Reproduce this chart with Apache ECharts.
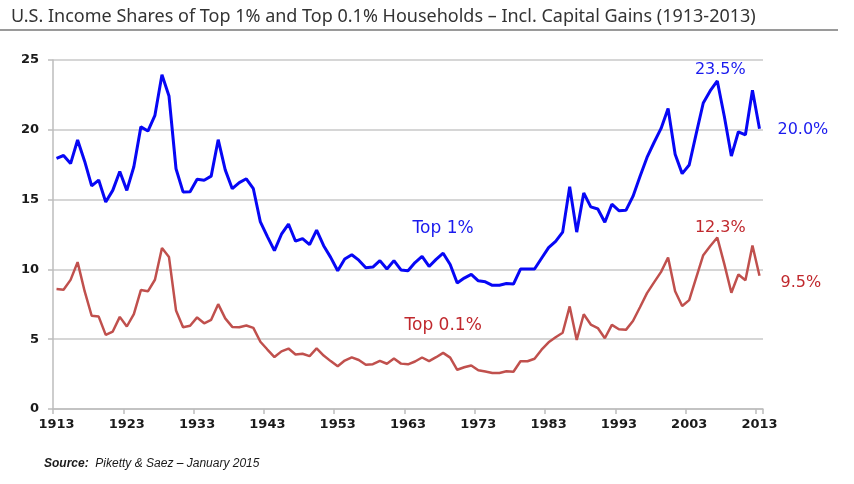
<!DOCTYPE html>
<html>
<head>
<meta charset="utf-8">
<script src="https://cdn.jsdelivr.net/npm/echarts@6/dist/echarts.min.js"></script>
<style>html,body{margin:0;padding:0;background:#fff}#c{width:854px;height:484px}</style>
</head>
<body>
<div id="c"></div>
<script>
var years = [];
for (var y = 1913; y <= 2013; y++) years.push(String(y));

var top1 = [17.96,18.16,17.58,19.27,17.75,15.98,16.40,14.83,15.66,17.01,
15.66,17.35,20.21,19.91,21.04,23.94,22.42,17.21,15.55,15.57,
16.45,16.38,16.68,19.29,17.13,15.78,16.22,16.49,15.78,13.40,
12.35,11.34,12.52,13.25,12.02,12.20,11.78,12.82,11.70,10.86,
9.90,10.74,11.05,10.66,10.12,10.17,10.63,10.03,10.63,9.96,
9.91,10.49,10.93,10.21,10.72,11.16,10.35,9.03,9.38,9.64,
9.18,9.11,8.86,8.87,8.99,8.95,10.02,10.02,10.03,10.80,
11.56,12.01,12.67,15.92,12.67,15.47,14.48,14.33,13.38,14.67,
14.21,14.23,15.23,16.65,18.02,19.09,20.10,21.52,18.25,16.86,
17.48,19.73,21.92,22.80,23.50,20.95,18.12,19.86,19.64,22.83,
20.08];

var top01 = [8.60,8.54,9.25,10.52,8.44,6.68,6.62,5.31,5.55,6.60,
5.91,6.80,8.52,8.43,9.26,11.54,10.88,7.06,5.86,5.96,
6.56,6.14,6.39,7.51,6.49,5.88,5.86,5.98,5.81,4.82,
4.26,3.72,4.13,4.33,3.91,3.96,3.79,4.34,3.83,3.43,
3.06,3.47,3.70,3.51,3.17,3.21,3.45,3.24,3.61,3.25,
3.20,3.40,3.69,3.43,3.71,4.02,3.68,2.81,2.99,3.12,
2.77,2.69,2.58,2.58,2.71,2.67,3.42,3.42,3.60,4.25,
4.78,5.14,5.46,7.35,4.94,6.79,6.05,5.80,5.07,6.03,
5.71,5.67,6.30,7.29,8.30,9.07,9.82,10.85,8.43,7.38,
7.80,9.41,11.02,11.68,12.28,10.38,8.33,9.64,9.22,11.71,
9.54];

var yTicks = [0, 5, 10, 15, 20, 25];

var chart = echarts.init(document.getElementById('c'), null, {renderer: 'canvas'});
var axisFont = {fontFamily: 'DejaVu Sans', fontWeight: 'bold', fontSize: 13, color: '#1a1a1a'};
var annFont = 'DejaVu Sans';

chart.setOption({
  animation: false,
  backgroundColor: '#ffffff',
  title: {
    text: 'U.S. Income Shares of Top 1% and Top 0.1% Households \u2013 Incl. Capital Gains (1913-2013)',
    left: 6, top: 3,
    textStyle: {fontFamily: 'Noto Sans', fontWeight: 'normal', fontSize: 18, color: '#333333'}
  },
  graphic: [
    {type: 'rect', shape: {x: 0, y: 29, width: 838, height: 2}, style: {fill: '#9a9a9a'}, silent: true},
    {type: 'text', left: 44, top: 458, style: {
      text: '{b|Source:}  {i|Piketty & Saez \u2013 January 2015}',
      rich: {
        b: {fontFamily: 'Liberation Sans', fontStyle: 'italic', fontWeight: 'bold', fontSize: 12, fill: '#1a1a1a'},
        i: {fontFamily: 'Liberation Sans', fontStyle: 'italic', fontSize: 12, fill: '#1a1a1a'}
      }
    }}
  ],
  grid: {left: 53, right: 91, top: 60, bottom: 75, containLabel: false},
  xAxis: {
    type: 'category',
    data: years,
    boundaryGap: true,
    axisLine: {show: true, lineStyle: {color: '#bdbdbd', width: 1.5}},
    axisTick: {show: true, interval: 9, length: 5, lineStyle: {color: '#bdbdbd', width: 1.5}},
    axisLabel: Object.assign({interval: 9, margin: 9}, axisFont),
    splitLine: {show: false}
  },
  yAxis: {
    type: 'value',
    min: yTicks[0], max: yTicks[yTicks.length - 1], interval: 5,
    axisLine: {show: true, lineStyle: {color: '#bdbdbd', width: 1.5}},
    axisTick: {show: true, length: 5, lineStyle: {color: '#bdbdbd', width: 1.5}},
    axisLabel: Object.assign({margin: 14}, axisFont),
    splitLine: {show: true, lineStyle: {color: '#c8c8c8', width: 1.5}}
  },
  series: [
    {
      name: 'Top 1%', type: 'line', data: top1, symbol: 'none', smooth: false,
      lineStyle: {color: '#0707f5', width: 3}, itemStyle: {color: '#0707f5'},
      endLabel: {show: true, formatter: '20.0%', distance: 18, offset: [0, 1],
        fontFamily: annFont, fontSize: 16, color: '#1a1aee'},
      markPoint: {
        symbol: 'circle', symbolSize: 0,
        data: [
          {coord: ['2007', 23.50], label: {show: true, formatter: '23.5%', offset: [3, -11]}},
          {coord: ['1968', 12.95], label: {show: true, formatter: 'Top 1%', fontSize: 17}}
        ],
        label: {fontFamily: annFont, fontSize: 16, color: '#1a1aee', position: 'inside'}
      }
    },
    {
      name: 'Top 0.1%', type: 'line', data: top01, symbol: 'none', smooth: false,
      lineStyle: {color: '#c0504d', width: 2.5}, itemStyle: {color: '#c0504d'},
      endLabel: {show: true, formatter: '9.5%', distance: 21, offset: [0, 7],
        fontFamily: annFont, fontSize: 16, color: '#c0282d'},
      markPoint: {
        symbol: 'circle', symbolSize: 0,
        data: [
          {coord: ['2007', 12.28], label: {show: true, formatter: '12.3%', offset: [3, -10]}},
          {coord: ['1968', 6.0], label: {show: true, formatter: 'Top 0.1%', fontSize: 17}}
        ],
        label: {fontFamily: annFont, fontSize: 16, color: '#c0282d', position: 'inside'}
      }
    }
  ]
});
</script>
</body>
</html>
